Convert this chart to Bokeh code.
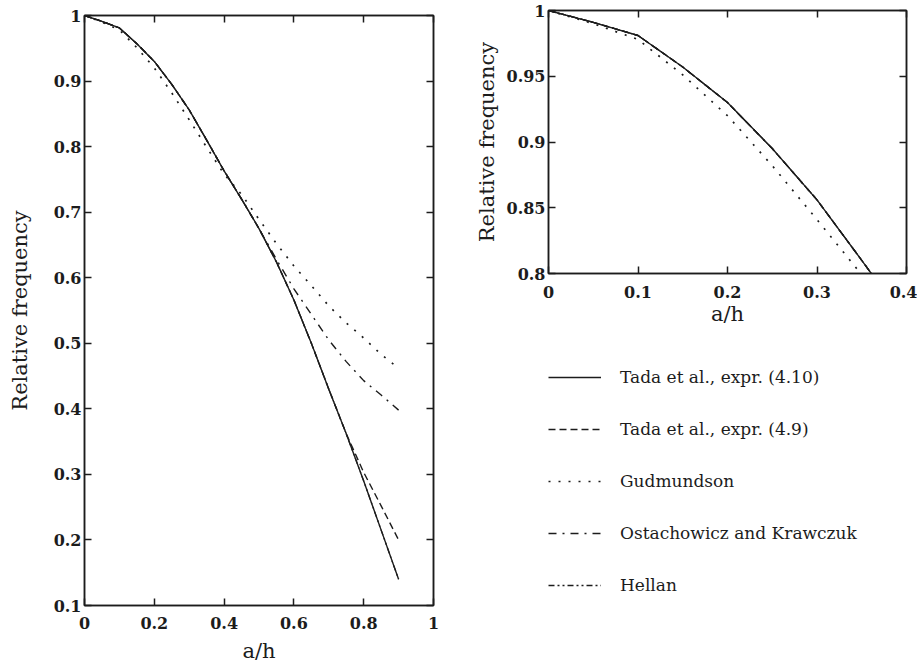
from bokeh.plotting import figure
from bokeh.models import LinearAxis, FixedTicker, Legend, LegendItem, Range1d
from bokeh.layouts import row, column
from bokeh.embed import file_html
from bokeh.resources import INLINE

# ---- data ----
a_h = [0.0, 0.05, 0.1, 0.15, 0.2, 0.25, 0.3, 0.35, 0.4, 0.45,
       0.5, 0.55, 0.6, 0.65, 0.7, 0.75, 0.8, 0.85, 0.9]
tada_410 = [1.0, 0.991, 0.981, 0.957, 0.930, 0.895, 0.856, 0.810, 0.763, 0.720,
            0.675, 0.624, 0.566, 0.500, 0.430, 0.362, 0.290, 0.215, 0.140]
tada_49 = [1.0, 0.991, 0.981, 0.957, 0.930, 0.895, 0.856, 0.810, 0.763, 0.720,
           0.675, 0.624, 0.566, 0.500, 0.430, 0.362, 0.303, 0.252, 0.200]
gudmundson = [1.0, 0.990, 0.978, 0.951, 0.920, 0.882, 0.841, 0.799, 0.758, 0.727,
              0.689, 0.652, 0.618, 0.588, 0.557, 0.531, 0.508, 0.483, 0.462]
ostachowicz = [1.0, 0.991, 0.981, 0.957, 0.930, 0.895, 0.856, 0.810, 0.763, 0.720,
               0.675, 0.628, 0.583, 0.544, 0.505, 0.472, 0.443, 0.421, 0.398]
hellan = [1.0, 0.991, 0.981, 0.957, 0.930, 0.895, 0.856, 0.810, 0.763, 0.720,
          0.675, 0.624, 0.566, 0.500, 0.430, 0.362, 0.290, 0.215, 0.140]

series_names = ["Tada et al., expr. (4.10)", "Tada et al., expr. (4.9)", "Gudmundson",
                "Ostachowicz and Krawczuk", "Hellan"]
series_values = [tada_410, tada_49, gudmundson, ostachowicz, hellan]

left_x_ticks = [0, 0.2, 0.4, 0.6, 0.8, 1]
left_x_labels = ["0", "0.2", "0.4", "0.6", "0.8", "1"]
left_y_ticks = [0.1, 0.2, 0.3, 0.4, 0.5, 0.6, 0.7, 0.8, 0.9, 1]
left_y_labels = ["0.1", "0.2", "0.3", "0.4", "0.5", "0.6", "0.7", "0.8", "0.9", "1"]
right_x_ticks = [0, 0.1, 0.2, 0.3, 0.4]
right_x_labels = ["0", "0.1", "0.2", "0.3", "0.4"]
right_y_ticks = [0.8, 0.85, 0.9, 0.95, 1]
right_y_labels = ["0.8", "0.85", "0.9", "0.95", "1"]

# ---- styles ----
INK = "#1c1c1c"
FONT = "DejaVu Serif"
dashes = ["solid", "7 4", "2 8", "8 6 2 6", "6 3 2 3 2 3"]
widths = [1.4, 1.4, 1.7, 1.4, 1.3]


def style_axis(ax, ticks, labels, show_labels=True, label_standoff=3):
    ax.ticker = FixedTicker(ticks=ticks)
    ax.major_label_overrides = {t: l for t, l in zip(ticks, labels)}
    ax.major_tick_in = 7
    ax.major_tick_out = 0
    ax.minor_tick_line_color = None
    ax.axis_line_color = INK
    ax.axis_line_width = 1.5
    ax.major_tick_line_color = INK
    ax.major_tick_line_width = 1.5
    ax.major_label_text_font = FONT
    ax.major_label_text_font_style = "bold"
    ax.major_label_text_color = INK
    ax.major_label_standoff = label_standoff
    ax.axis_label_text_font = FONT
    ax.axis_label_text_font_style = "normal"
    ax.axis_label_text_font_size = "21px"
    ax.axis_label_text_color = INK
    ax.major_label_text_font_size = "16px"
    if not show_labels:
        ax.major_label_text_font_size = "4px"
        ax.major_label_text_color = None
        ax.major_label_standoff = 0


def make_fig(fw, fh, xr, yr, borders, **kw):
    p = figure(frame_width=fw, frame_height=fh, x_range=Range1d(*xr), y_range=Range1d(*yr),
               output_backend="svg", toolbar_location=None,
               min_border_left=borders[0], min_border_right=borders[1],
               min_border_top=borders[2], min_border_bottom=borders[3], **kw)
    p.grid.visible = False
    p.outline_line_color = INK
    p.outline_line_width = 1.5
    p.background_fill_color = "white"
    p.border_fill_color = "white"
    return p


def add_frame_axes(p, xt, xl, yt, yl, xstand, ystand, xlab_stand, ylab_stand):
    style_axis(p.xaxis[0], xt, xl, True, xstand)
    style_axis(p.yaxis[0], yt, yl, True, ystand)
    p.xaxis[0].axis_label = "a/h"
    p.yaxis[0].axis_label = "Relative frequency"
    p.xaxis[0].axis_label_standoff = xlab_stand
    p.yaxis[0].axis_label_standoff = ylab_stand
    top = LinearAxis()
    style_axis(top, xt, xl, False)
    right = LinearAxis()
    style_axis(right, yt, yl, False)
    p.add_layout(top, "above")
    p.add_layout(right, "right")


def draw_series(p):
    rends = []
    for vals, dash, w in zip(series_values, dashes, widths):
        r = p.line(a_h, vals, line_color=INK, line_width=w, line_dash=dash)
        rends.append(r)
    return rends


# ---- left plot ----
p1 = make_fig(349, 590, (0, 1), (0.1, 1), (84, 27, 15, 63))
add_frame_axes(p1, left_x_ticks, left_x_labels, left_y_ticks, left_y_labels,
               11, 3, 7, 19)
draw_series(p1)

# ---- right (zoomed) plot ----
p2 = make_fig(358, 263, (0, 0.4), (0.8, 1), (88, 11, 10, 60))
add_frame_axes(p2, right_x_ticks, right_x_labels, right_y_ticks, right_y_labels,
               12, 3, 1, 5)
draw_series(p2)

# ---- legend panel under the zoomed plot (series drawn outside its visible range) ----
p3 = make_fig(358, 301, (2, 3), (2, 3), (88, 11, 34, 0),
              x_axis_location=None, y_axis_location=None)
p3.outline_line_color = None
rends3 = draw_series(p3)

legend = Legend(items=[LegendItem(label=n, renderers=[r]) for n, r in zip(series_names, rends3)],
                location="top_left", orientation="vertical")
legend.margin = 0
legend.padding = 0
legend.spacing = 32
legend.glyph_width = 53
legend.glyph_height = 20
legend.label_height = 20
legend.label_standoff = 19
legend.label_text_font = FONT
legend.label_text_font_size = "17px"
legend.label_text_color = INK
legend.border_line_color = None
legend.background_fill_alpha = 0
p3.add_layout(legend, "center")

layout = row(p1, column(p2, p3))
open("out.html", "w").write(file_html(layout, INLINE))
